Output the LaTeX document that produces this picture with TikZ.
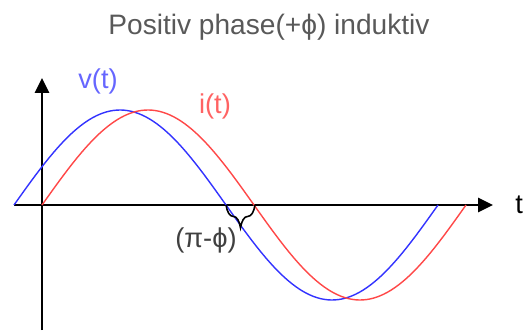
\documentclass[tikz,border=0pt]{standalone}
\usepackage{fontspec}
\setmainfont{Liberation Sans}
\usetikzlibrary{arrows.meta,decorations.pathreplacing,calc}
\definecolor{vblue}{HTML}{3333FF}
\definecolor{ired}{HTML}{FF4848}
\begin{document}
\begin{tikzpicture}[
  x=0.02cm, y=0.02cm,
  every node/.style={font=\fontsize{15.5}{18}\selectfont},
  axis/.style={line width=1.6pt, -{Triangle[length=8.5pt,width=8pt]}},
  wave/.style={line width=0.8pt},
  >=Latex
]
% Scale: 1 unit = 1 px of the sketch, origin where the axes cross
\useasboundingbox (-42,-126) rectangle (482,205);

%% --- Axes -----------------------------------------------------
\coordinate (o) at (0,0);
\coordinate (xstart) at (-28,0);
\coordinate (xend) at (451,0);
\coordinate (ystart) at (0,-125);
\coordinate (yend) at (0,127);
\draw[axis] (xstart) -- (xend);
\draw[axis] (ystart) -- (yend);
\node[anchor=west, inner sep=0pt] (tlabel) at (473,0) {t};

%% --- Voltage and current (period 424 px, shift 28 px) ---------
\draw[wave, vblue] plot[domain=-28:396, samples=120]
     (\x, {95*sin((\x+28)/424*360)});
\draw[wave, ired]  plot[domain=0:424, samples=120]
     (\x, {95*sin(\x/424*360)});

\node[text=vblue!75] (vlabel) at (56,124) {v(t)};
\node[text=ired!85]  (ilabel) at (173,99) {i(t)};

%% --- Phase gap between the zero crossings ---------------------
\coordinate (vzero) at (184,0);
\coordinate (izero) at (213,0);
\draw[line width=0.9pt, decorate,
      decoration={brace, mirror, amplitude=13pt}] (vzero) -- (izero);
\node[text=black!75] (phlabel) at (164,-35) {(π-ϕ)};

%% --- Title ----------------------------------------------------
\node[text=black!65, font=\fontsize{16}{19}\selectfont]
     (title) at (227,178) {Positiv phase(+ϕ) induktiv};

\end{tikzpicture}
\end{document}
